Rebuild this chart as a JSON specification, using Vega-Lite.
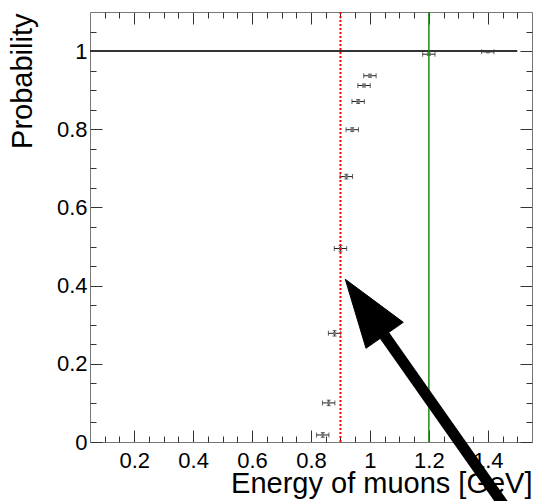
{
  "$schema": "https://vega.github.io/schema/vega-lite/v6.json",
  "autosize": {"type": "none"},
  "padding": {"left": 90, "top": 12, "right": 5, "bottom": 59},
  "width": 442,
  "height": 430,
  "background": "white",
  "config": {
    "view": {"stroke": null},
    "font": "Liberation Sans",
    "axis": {"zindex": 0, "grid": false, "domainColor": "#777", "domainWidth": 1, "tickColor": "#333", "tickWidth": 1, "labelFont": "Liberation Sans", "labelColor": "black", "labelFontSize": 22, "titleFont": "Liberation Sans", "titleFontWeight": "normal", "titleColor": "black", "titleFontSize": 29}
  },
  "datasets": {
    "pts": [
      {"e": 0.84, "p": 0.018, "elo": 0.819, "ehi": 0.861, "plo": 0.012, "phi": 0.024},
      {"e": 0.86, "p": 0.100, "elo": 0.839, "ehi": 0.881, "plo": 0.093, "phi": 0.107},
      {"e": 0.88, "p": 0.278, "elo": 0.859, "ehi": 0.901, "plo": 0.271, "phi": 0.285},
      {"e": 0.90, "p": 0.495, "elo": 0.879, "ehi": 0.921, "plo": 0.488, "phi": 0.502},
      {"e": 0.92, "p": 0.679, "elo": 0.899, "ehi": 0.941, "plo": 0.673, "phi": 0.685},
      {"e": 0.94, "p": 0.799, "elo": 0.919, "ehi": 0.961, "plo": 0.794, "phi": 0.804},
      {"e": 0.96, "p": 0.871, "elo": 0.939, "ehi": 0.981, "plo": 0.866, "phi": 0.876},
      {"e": 0.98, "p": 0.912, "elo": 0.959, "ehi": 1.001, "plo": 0.908, "phi": 0.916},
      {"e": 1.00, "p": 0.937, "elo": 0.979, "ehi": 1.021, "plo": 0.933, "phi": 0.941},
      {"e": 1.20, "p": 0.992, "elo": 1.179, "ehi": 1.221, "plo": 0.989, "phi": 0.995},
      {"e": 1.40, "p": 0.998, "elo": 1.379, "ehi": 1.421, "plo": 0.996, "phi": 1.000}
    ],
    "hline": [{"x": 0.05, "x2": 1.5, "y": 1}],
    "green": [{"x": 1.2}],
    "red": [{"x": 0.9}],
    "head": [
      {"i": 0, "x": 0.9164, "y": 0.4162},
      {"i": 1, "x": 1.1132, "y": 0.3062},
      {"i": 2, "x": 0.9866, "y": 0.2397},
      {"i": 3, "x": 0.9164, "y": 0.4162}
    ],
    "shaft": [{"x": 1.0172, "y": 0.307, "x2": 1.4903, "y2": -0.2}]
  },
  "resolve": {"axis": {"x": "independent", "y": "independent"}},
  "layer": [
    {
      "data": {"name": "pts"},
      "mark": {"type": "rule", "color": "#222", "strokeWidth": 1},
      "encoding": {
        "x": {"field": "elo", "type": "quantitative", "scale": {"domain": [0.05, 1.55], "nice": false, "zero": false},
          "axis": {"orient": "bottom", "values": [0.2, 0.4, 0.6, 0.8, 1, 1.2, 1.4], "labelExpr": "toString(datum.value)", "tickSize": -12, "labelPadding": 20, "title": "Energy of muons [GeV]", "titleAlign": "right", "titleAnchor": "end", "titleX": 442, "titleY": 50, "titleBaseline": "alphabetic"}},
        "x2": {"field": "ehi"},
        "y": {"field": "p", "type": "quantitative", "scale": {"domain": [0, 1.1], "nice": false, "zero": false},
          "axis": {"orient": "left", "values": [0, 0.2, 0.4, 0.6, 0.8, 1], "labelExpr": "toString(datum.value)", "tickSize": -12, "labelPadding": 15, "title": "Probability", "titleAngle": -90, "titleAlign": "right", "titleAnchor": "end", "titleX": -59, "titleY": 1, "titleBaseline": "alphabetic"}}
      }
    },
    {
      "data": {"name": "pts"},
      "mark": {"type": "rule", "color": "#222", "strokeWidth": 1},
      "encoding": {
        "x": {"field": "e", "type": "quantitative",
          "axis": {"orient": "bottom", "values": [0.1, 0.15, 0.25, 0.3, 0.35, 0.45, 0.5, 0.55, 0.65, 0.7, 0.75, 0.85, 0.9, 0.95, 1.05, 1.1, 1.15, 1.25, 1.3, 1.35, 1.45, 1.5], "tickSize": -6, "labels": false, "domain": false, "title": null}},
        "y": {"field": "plo", "type": "quantitative",
          "axis": {"orient": "left", "values": [0.05, 0.1, 0.15, 0.25, 0.3, 0.35, 0.45, 0.5, 0.55, 0.65, 0.7, 0.75, 0.85, 0.9, 0.95, 1.05], "tickSize": -6, "labels": false, "domain": false, "title": null}},
        "y2": {"field": "phi"}
      }
    },
    {
      "data": {"name": "pts"},
      "mark": {"type": "tick", "orient": "vertical", "size": 5, "thickness": 1, "color": "#222"},
      "encoding": {
        "x": {"field": "elo", "type": "quantitative",
          "axis": {"orient": "top", "values": [0.2, 0.4, 0.6, 0.8, 1, 1.2, 1.4], "tickSize": -12, "labels": false, "title": null}},
        "y": {"field": "p", "type": "quantitative",
          "axis": {"orient": "right", "values": [0, 0.2, 0.4, 0.6, 0.8, 1], "tickSize": -12, "labels": false, "title": null}}
      }
    },
    {
      "data": {"name": "pts"},
      "mark": {"type": "tick", "orient": "vertical", "size": 5, "thickness": 1, "color": "#222"},
      "encoding": {
        "x": {"field": "ehi", "type": "quantitative",
          "axis": {"orient": "top", "values": [0.1, 0.15, 0.25, 0.3, 0.35, 0.45, 0.5, 0.55, 0.65, 0.7, 0.75, 0.85, 0.9, 0.95, 1.05, 1.1, 1.15, 1.25, 1.3, 1.35, 1.45, 1.5], "tickSize": -6, "labels": false, "domain": false, "title": null}},
        "y": {"field": "p", "type": "quantitative",
          "axis": {"orient": "right", "values": [0.05, 0.1, 0.15, 0.25, 0.3, 0.35, 0.45, 0.5, 0.55, 0.65, 0.7, 0.75, 0.85, 0.9, 0.95, 1.05], "tickSize": -6, "labels": false, "domain": false, "title": null}}
      }
    },
    {
      "data": {"name": "pts"},
      "mark": {"type": "tick", "orient": "horizontal", "size": 4, "thickness": 1, "color": "#222"},
      "encoding": {
        "x": {"field": "e", "type": "quantitative", "axis": null},
        "y": {"field": "plo", "type": "quantitative", "axis": null}
      }
    },
    {
      "data": {"name": "pts"},
      "mark": {"type": "tick", "orient": "horizontal", "size": 4, "thickness": 1, "color": "#222"},
      "encoding": {
        "x": {"field": "e", "type": "quantitative", "axis": null},
        "y": {"field": "phi", "type": "quantitative", "axis": null}
      }
    },
    {
      "data": {"name": "pts"},
      "mark": {"type": "square", "size": 9, "color": "#777", "opacity": 1},
      "encoding": {
        "x": {"field": "e", "type": "quantitative", "axis": null},
        "y": {"field": "p", "type": "quantitative", "axis": null}
      }
    },
    {
      "data": {"name": "hline"},
      "mark": {"type": "rule", "color": "#333", "strokeWidth": 2},
      "encoding": {
        "x": {"field": "x", "type": "quantitative", "axis": null},
        "x2": {"field": "x2"},
        "y": {"field": "y", "type": "quantitative", "axis": null}
      }
    },
    {
      "data": {"name": "green"},
      "mark": {"type": "rule", "color": "#1a8a1a", "strokeWidth": 1.5},
      "encoding": {
        "x": {"field": "x", "type": "quantitative", "axis": null}
      }
    },
    {
      "data": {"name": "red"},
      "mark": {"type": "rule", "color": "#ff0000", "strokeWidth": 2, "strokeDash": [2, 2]},
      "encoding": {
        "x": {"field": "x", "type": "quantitative", "axis": null}
      }
    },
    {
      "data": {"name": "shaft"},
      "mark": {"type": "rule", "color": "black", "strokeWidth": 11, "strokeCap": "butt"},
      "encoding": {
        "x": {"field": "x", "type": "quantitative", "axis": null},
        "y": {"field": "y", "type": "quantitative", "axis": null},
        "x2": {"field": "x2"},
        "y2": {"field": "y2"}
      }
    },
    {
      "data": {"name": "head"},
      "mark": {"type": "line", "stroke": "black", "fill": "black", "strokeWidth": 1},
      "encoding": {
        "x": {"field": "x", "type": "quantitative", "axis": null},
        "y": {"field": "y", "type": "quantitative", "axis": null},
        "order": {"field": "i", "type": "quantitative"}
      }
    }
  ]
}
